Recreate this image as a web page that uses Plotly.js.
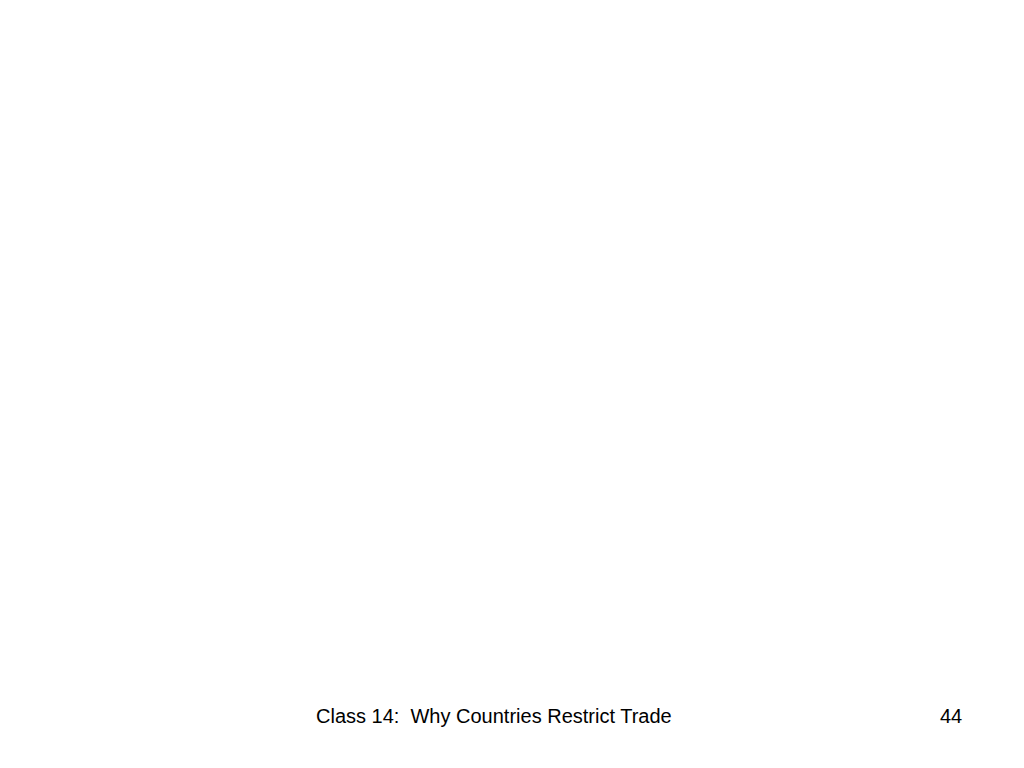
<!DOCTYPE html>
<html>
<head>
<meta charset="utf-8">
<script src="https://cdn.plot.ly/plotly-3.0.1.min.js"></script>
<style>
  html, body { margin: 0; padding: 0; background: #fff; }
  #slide { width: 1024px; height: 768px; }
</style>
</head>
<body>
<div id="slide"></div>
<script>
// Slide footer texts (the slide body itself is empty)
var footerLabels = ['Class 14:  Why Countries Restrict Trade', '44'];
var footerX = [494, 951];
var footerY = [716, 716];

var W = 1024, H = 768;

var annotations = footerLabels.map(function (t, i) {
    return {
        text: t,
        xref: 'paper', yref: 'paper',
        x: footerX[i] / W, y: 1 - footerY[i] / H,
        xanchor: 'center', yanchor: 'middle',
        showarrow: false,
        font: { family: 'Liberation Sans, Arial, sans-serif', size: 20, color: '#000' }
    };
});

Plotly.newPlot('slide', [], {
    width: W, height: H,
    margin: { l: 0, r: 0, t: 0, b: 0 },
    paper_bgcolor: '#fff', plot_bgcolor: '#fff',
    xaxis: { visible: false, range: [0, 1] },
    yaxis: { visible: false, range: [0, 1] },
    showlegend: false,
    annotations: annotations
}, { displayModeBar: false, staticPlot: true });
</script>
</body>
</html>
